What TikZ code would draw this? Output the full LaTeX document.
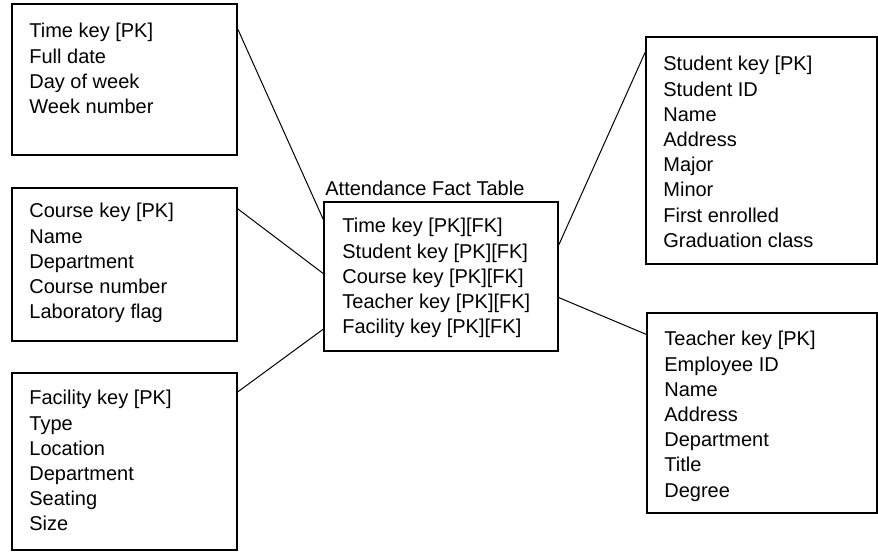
\documentclass[tikz,border=0pt]{standalone}
\usepackage{fontspec}
\setmainfont{Liberation Sans}
\usetikzlibrary{calc}
\usetikzlibrary{fit}

\tikzset{
  tbl/.style={draw, line width=0.8pt, inner sep=0pt},
  rows/.style={anchor=north west, inner sep=0pt, align=left,
    font=\fontsize{10}{12.6}\selectfont},
  link/.style={line width=0.5pt}
}

\begin{document}
\begin{tikzpicture}[x=0.5pt, y=-0.5pt]
\useasboundingbox (0,0) rectangle (878,552);

% Table boxes
\node[tbl, fit={(12,4) (237,155)}] (time) {};
\node[tbl, fit={(12,188) (237,341)}] (course) {};
\node[tbl, fit={(12,373) (237,550)}] (facility) {};
\node[tbl, fit={(324,202) (558,351)}] (fact) {};
\node[tbl, fit={(646,37) (877,264)}] (student) {};
\node[tbl, fit={(647,313) (877,513)}] (teacher) {};

% Fact table
\node[anchor=base west, inner sep=0pt, font=\fontsize{10}{12.6}\selectfont]
  (title) at (325,195) {Attendance Fact Table};
\node[rows] (factrows) at (342,218) {Time key [PK][FK]\\Student key [PK][FK]\\
  Course key [PK][FK]\\Teacher key [PK][FK]\\Facility key [PK][FK]};

% Dimension tables
\node[rows] (timerows) at (29,23) {Time key [PK]\\Full date\\Day of week\\Week number};
\node[rows] (courserows) at (29,203) {Course key [PK]\\Name\\Department\\
  Course number\\Laboratory flag};
\node[rows] (facilityrows) at (29,390) {Facility key [PK]\\Type\\Location\\
  Department\\Seating\\Size};
\node[rows] (studentrows) at (663,56) {Student key [PK]\\Student ID\\Name\\
  Address\\Major\\Minor\\First enrolled\\Graduation class};
\node[rows] (teacherrows) at (664,331) {Teacher key [PK]\\Employee ID\\Name\\
  Address\\Department\\Title\\Degree};

% Links to the fact table
\draw[link] ($(time.north east)!0.17!(time.south east)$)
  -- ($(fact.north west)!0.12!(fact.south west)$);
\draw[link] ($(course.north east)!0.14!(course.south east)$)
  -- ($(fact.north west)!0.48!(fact.south west)$);
\draw[link] ($(facility.north east)!0.11!(facility.south east)$)
  -- ($(fact.north west)!0.85!(fact.south west)$);
\draw[link] ($(student.north west)!0.07!(student.south west)$)
  -- ($(fact.north east)!0.29!(fact.south east)$);
\draw[link] ($(teacher.north west)!0.11!(teacher.south west)$)
  -- ($(fact.north east)!0.64!(fact.south east)$);

\end{tikzpicture}
\end{document}
